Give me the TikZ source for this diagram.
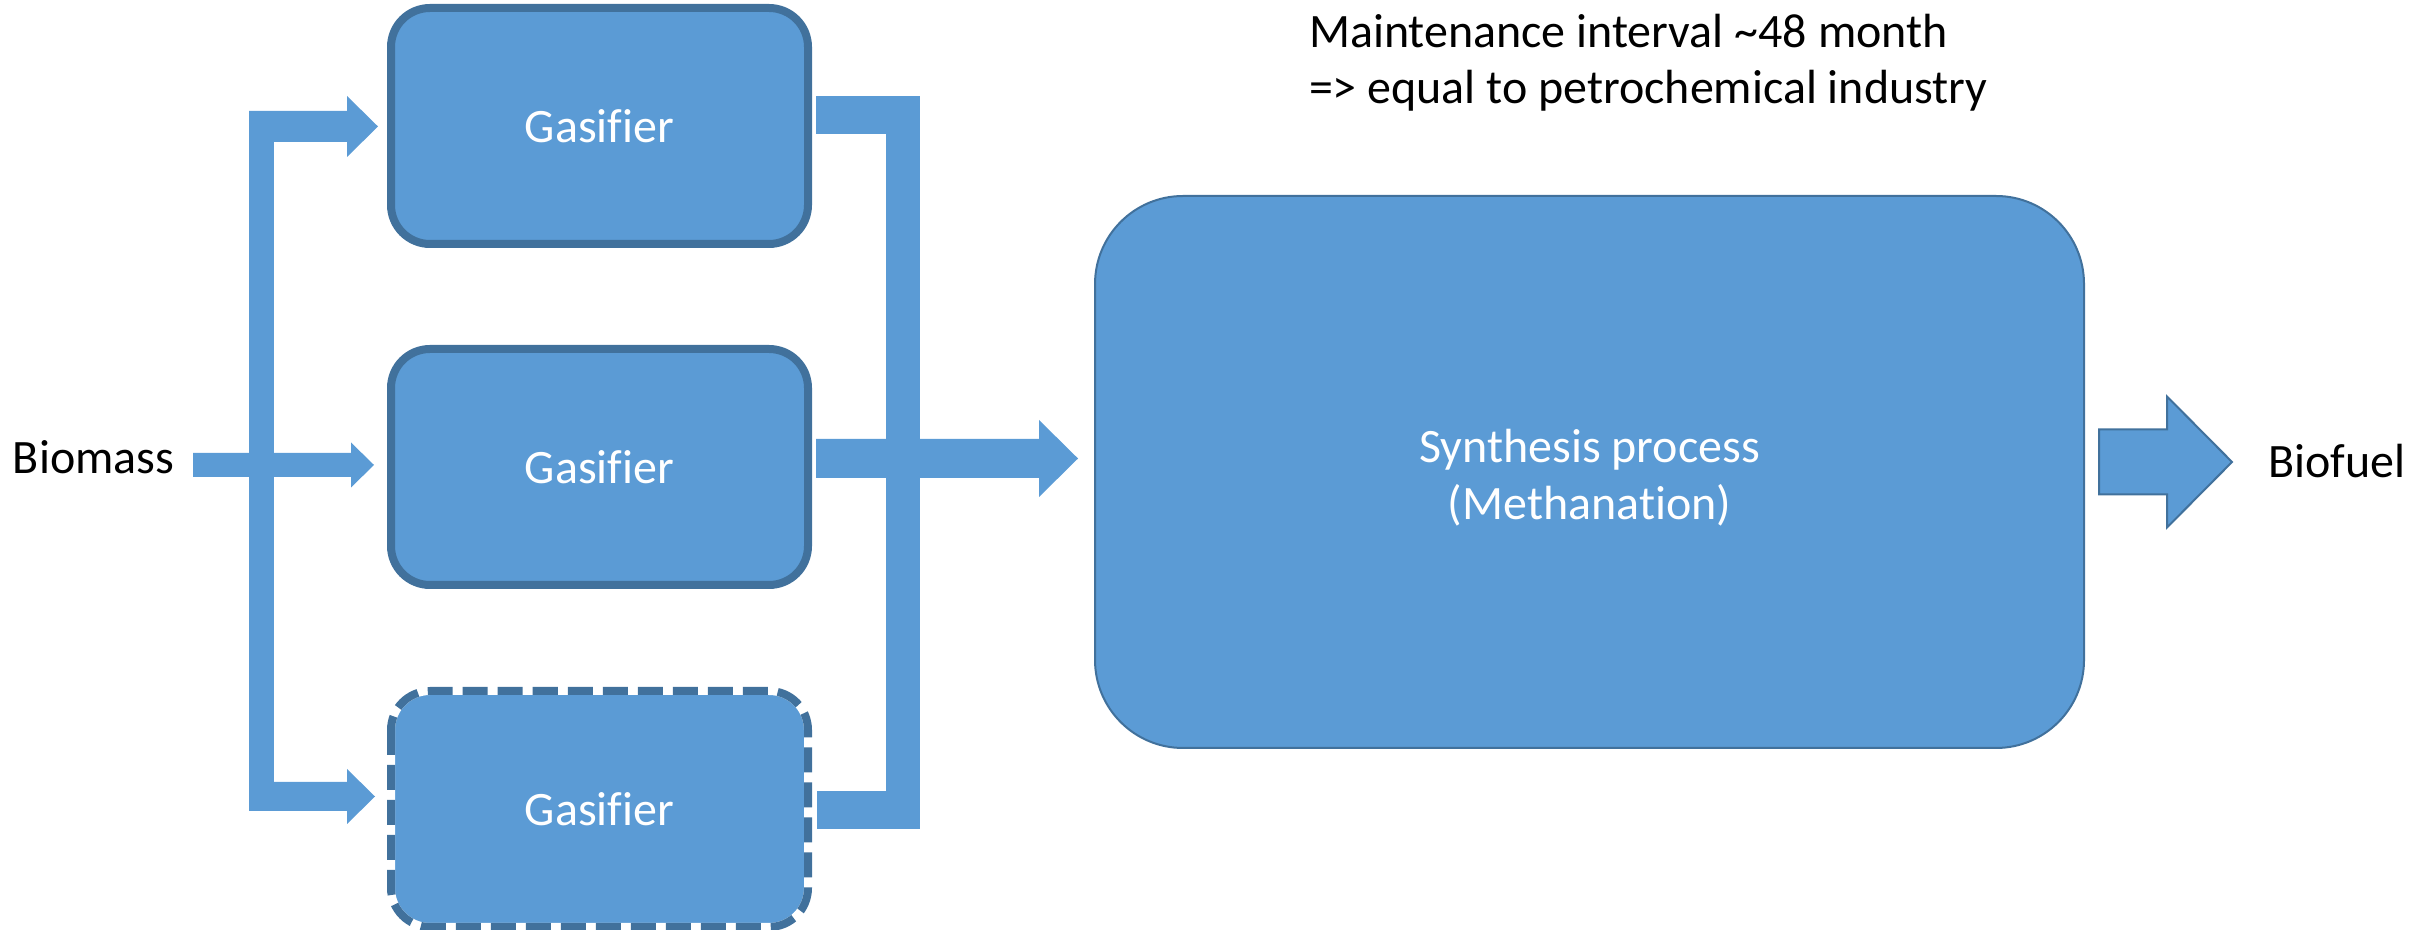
\documentclass[tikz,border=0pt]{standalone}
\usepackage{fontspec}
\setmainfont{Carlito}[Ligatures={NoCommon}]
\usetikzlibrary{calc}
\definecolor{boxblue}{HTML}{5B9BD5}
\definecolor{edgeblue}{HTML}{41719C}

% horizontal block arrow: [style]{start}{tip}{shaft half width}{head half width}{head length}
\newcommand{\blockarrow}[6][flow]{%
  \path[#1] ($(#2)+(0,-#4)$) -- ($(#3)+(-#6,-#4)$) -- ($(#3)+(-#6,-#5)$) -- (#3)
    -- ($(#3)+(-#6,#5)$) -- ($(#3)+(-#6,#4)$) -- ($(#2)+(0,#4)$) -- cycle;}

\begin{document}
\begin{tikzpicture}[x=0.1mm,y=-0.1mm,
  txt/.style={font=\fontsize{13.65}{16.2}\selectfont, inner sep=0pt, outer sep=0pt},
  plain text/.style={txt, text=black, align=left},
  gasifier/.style={txt, rectangle, rounded corners=3.9mm, minimum width=41.7mm,
    minimum height=23.6mm, fill=boxblue, draw=edgeblue, line width=0.8mm, text=white},
  reserve/.style={gasifier, draw=white},
  reserve edge/.style={draw=edgeblue, line width=0.8mm, rounded corners=3.9mm,
    dash pattern=on 2.5mm off 1.0mm},
  synthesis/.style={txt, rectangle, rounded corners=8.8mm, minimum width=98.9mm,
    minimum height=55.2mm, fill=boxblue, draw=edgeblue, line width=0.2mm},
  inner label/.style={txt, text=white, align=center},
  flow/.style={fill=boxblue, draw=none},
  product/.style={fill=boxblue, draw=edgeblue, line width=0.2mm, line join=miter},
 ]
\useasboundingbox (0,0) rectangle (2435,930);

% process units
\node[gasifier] (g1) at (599.5,126) {Gasifier};
\node[gasifier] (g2) at (599.5,467) {Gasifier};
\node[reserve]  (g3) at (599.5,809) {Gasifier};
\draw[reserve edge] (g3.north west) rectangle (g3.south east);
\node[synthesis] (synth) at (1589.5,472) {};
\node[inner label] (synthtext) at ($(synth.center)+(0,6)$) {Synthesis process\\(Methanation)};

% labels
\node[plain text, anchor=base west] (biomass) at (13,474) {Biomass};
\node[plain text, anchor=base west] (biofuel) at (2268,478) {Biofuel};
\node[plain text, anchor=base west] (note) at (1309,104)
  {Maintenance interval \textasciitilde48 month\\=> equal to petrochemical industry};

% feed distribution
\coordinate (tipTop) at ($(g1.west)+(-13,0.5)$);
\coordinate (tipMid) at ($(g2.west)+(-17,-2)$);
\coordinate (tipBot) at ($(g3.west)+(-16,-12.5)$);
\coordinate (feedBus) at (249,0);
\coordinate (feedStart) at (193,0);
\fill[flow] (249,111) rectangle (274,811);
\blockarrow{feedBus |- tipTop}{tipTop}{15.5}{30.5}{31}
\blockarrow{feedStart |- tipMid}{tipMid}{12}{22.5}{23}
\blockarrow{feedBus |- tipBot}{tipBot}{14.5}{27.5}{28}

% gas collection
\fill[flow] ($(g1.east)+(8,-30)$) rectangle ($(g1.east)+(112,8)$);
\fill[flow] ($(g3.east)+(9,-18)$) rectangle ($(g3.east)+(112,20)$);
\fill[flow] (886,96) rectangle (920,829);
\coordinate (gasStart) at ($(g2.east)+(8,-8.5)$);
\coordinate (gasTip) at (synth.west |- gasStart);
\coordinate (gasTipIn) at ($(gasTip)+(-17,0)$);
\blockarrow{gasStart}{gasTipIn}{19.5}{38.5}{39}

% product
\coordinate (prodStart) at ($(synth.east)+(15,-10)$);
\coordinate (prodTip) at ($(prodStart)+(133,0)$);
\blockarrow[product]{prodStart}{prodTip}{32.5}{65.5}{65}
\end{tikzpicture}
\end{document}
